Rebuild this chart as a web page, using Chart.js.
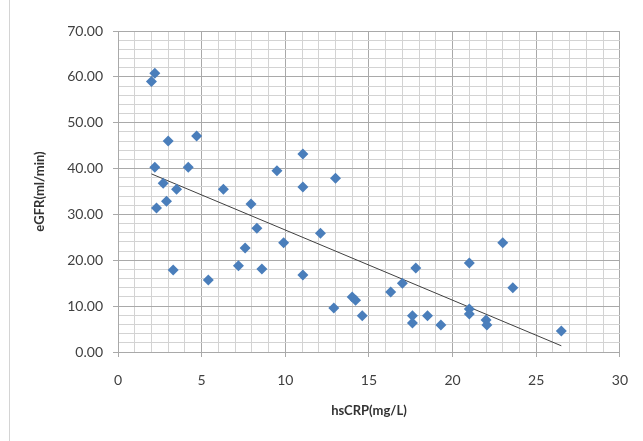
<!DOCTYPE html>
<html>
<head>
<meta charset="utf-8">
<script src="https://cdn.jsdelivr.net/npm/chart.js@4/dist/chart.umd.min.js"></script>
<style>
  html, body { margin: 0; padding: 0; background: #fff; }
  #wrap { position: relative; width: 643px; height: 441px; }
  #frame { position: absolute; left: 9px; top: 0; width: 0; height: 441px; border-left: 1px solid #d4d4d4; }
</style>
</head>
<body>
<div id="wrap">
  <div id="frame"></div>
  <canvas id="myChart" width="643" height="441"></canvas>
</div>
<script>
// hsCRP (mg/L) and eGFR (ml/min), one entry per patient
var crpValues = [2.0, 2.2, 2.2, 2.3, 2.7, 2.9, 3.0, 3.3, 3.5, 4.2, 4.7, 5.4, 6.3, 7.2, 7.6,
  7.95, 8.3, 8.6, 9.9, 9.5, 11.05, 11.05, 11.05, 12.1, 13.0, 12.9, 14.0, 14.2, 14.6, 16.3,
  17.0, 17.8, 17.6, 17.6, 18.5, 19.3, 21.0, 21.0, 21.0, 22.0, 22.05, 23.0, 23.6, 26.5];
var egfrValues = [59.0, 60.8, 40.3, 31.4, 36.8, 32.9, 46.0, 17.9, 35.5, 40.3, 47.1, 15.7, 35.5, 18.8, 22.7,
  32.3, 27.0, 18.1, 23.8, 39.5, 43.2, 36.0, 16.8, 25.9, 37.9, 9.6, 12.0, 11.3, 7.9, 13.1,
  15.0, 18.3, 7.9, 6.3, 7.9, 5.9, 19.4, 9.4, 8.3, 7.0, 5.9, 23.8, 14.0, 4.6];

// linear trend
var trendSlope = -1.53;
var trendIntercept = 41.9;
var trendRange = [2.0, 26.5];

var points = crpValues.map(function (x, i) { return { x: x, y: egfrValues[i] }; });
var trendPoints = trendRange.map(function (x) { return { x: x, y: trendIntercept + trendSlope * x }; });

var majorGrid = "#a9a9a9";
var minorGrid = "#d3d3d3";

var ctx = document.getElementById("myChart");
var myChart = new Chart(ctx, {
  type: "scatter",
  data: {
    datasets: [
      {
        label: "eGFR",
        data: points,
        pointStyle: "rectRot",
        pointRadius: 5.5,
        pointHoverRadius: 5.5,
        backgroundColor: "#4a7ebb",
        borderColor: "#4a7ebb",
        borderWidth: 0,
        order: 1,
      },
      {
        label: "trend",
        type: "line",
        data: trendPoints,
        borderColor: "#404040",
        borderWidth: 1,
        pointRadius: 0,
        fill: false,
        order: 2,
      },
    ],
  },
  options: {
    responsive: false,
    animation: false,
    layout: { padding: { left: 0, right: 23, top: 31, bottom: 0 } },
    plugins: {
      legend: { display: false },
      tooltip: { enabled: false },
    },
    scales: {
      x: {
        type: "linear",
        min: 0,
        max: 30,
        afterFit: function (scale) { scale.height = 89; },
        ticks: {
          stepSize: 1,
          autoSkip: false,
          maxRotation: 0,
          padding: 15,
          color: "#404040",
          font: { family: "Lato", size: 14 },
          callback: function (v) { return v % 5 === 0 ? v : ""; },
        },
        grid: {
          color: function (c) { return c.tick && c.tick.value % 5 === 0 ? majorGrid : minorGrid; },
          tickColor: function (c) { return c.tick && c.tick.value % 5 === 0 ? majorGrid : "rgba(0,0,0,0)"; },
          tickLength: 5,
        },
        border: { display: true, color: majorGrid },
        title: {
          display: true,
          text: "hsCRP(mg/L)",
          color: "#333",
          font: { family: "Lato", size: 13, weight: "bold" },
          padding: { top: 0, bottom: 22 },
        },
      },
      y: {
        min: 0,
        max: 70,
        afterFit: function (scale) { scale.width = 118; },
        ticks: {
          stepSize: 2,
          autoSkip: false,
          padding: 10,
          color: "#404040",
          font: { family: "Lato", size: 14 },
          callback: function (v) { return v % 10 === 0 ? v.toFixed(2) : ""; },
        },
        grid: {
          color: function (c) { return c.tick && c.tick.value % 10 === 0 ? majorGrid : minorGrid; },
          tickColor: function (c) { return c.tick && c.tick.value % 10 === 0 ? majorGrid : "rgba(0,0,0,0)"; },
          tickLength: 5,
        },
        border: { display: true, color: majorGrid },
        title: {
          display: true,
          text: "eGFR(ml/min)",
          color: "#333",
          font: { family: "Lato", size: 13, weight: "bold" },
          padding: { top: 32, bottom: 0 },
        },
      },
    },
  },
});
</script>
</body>
</html>
